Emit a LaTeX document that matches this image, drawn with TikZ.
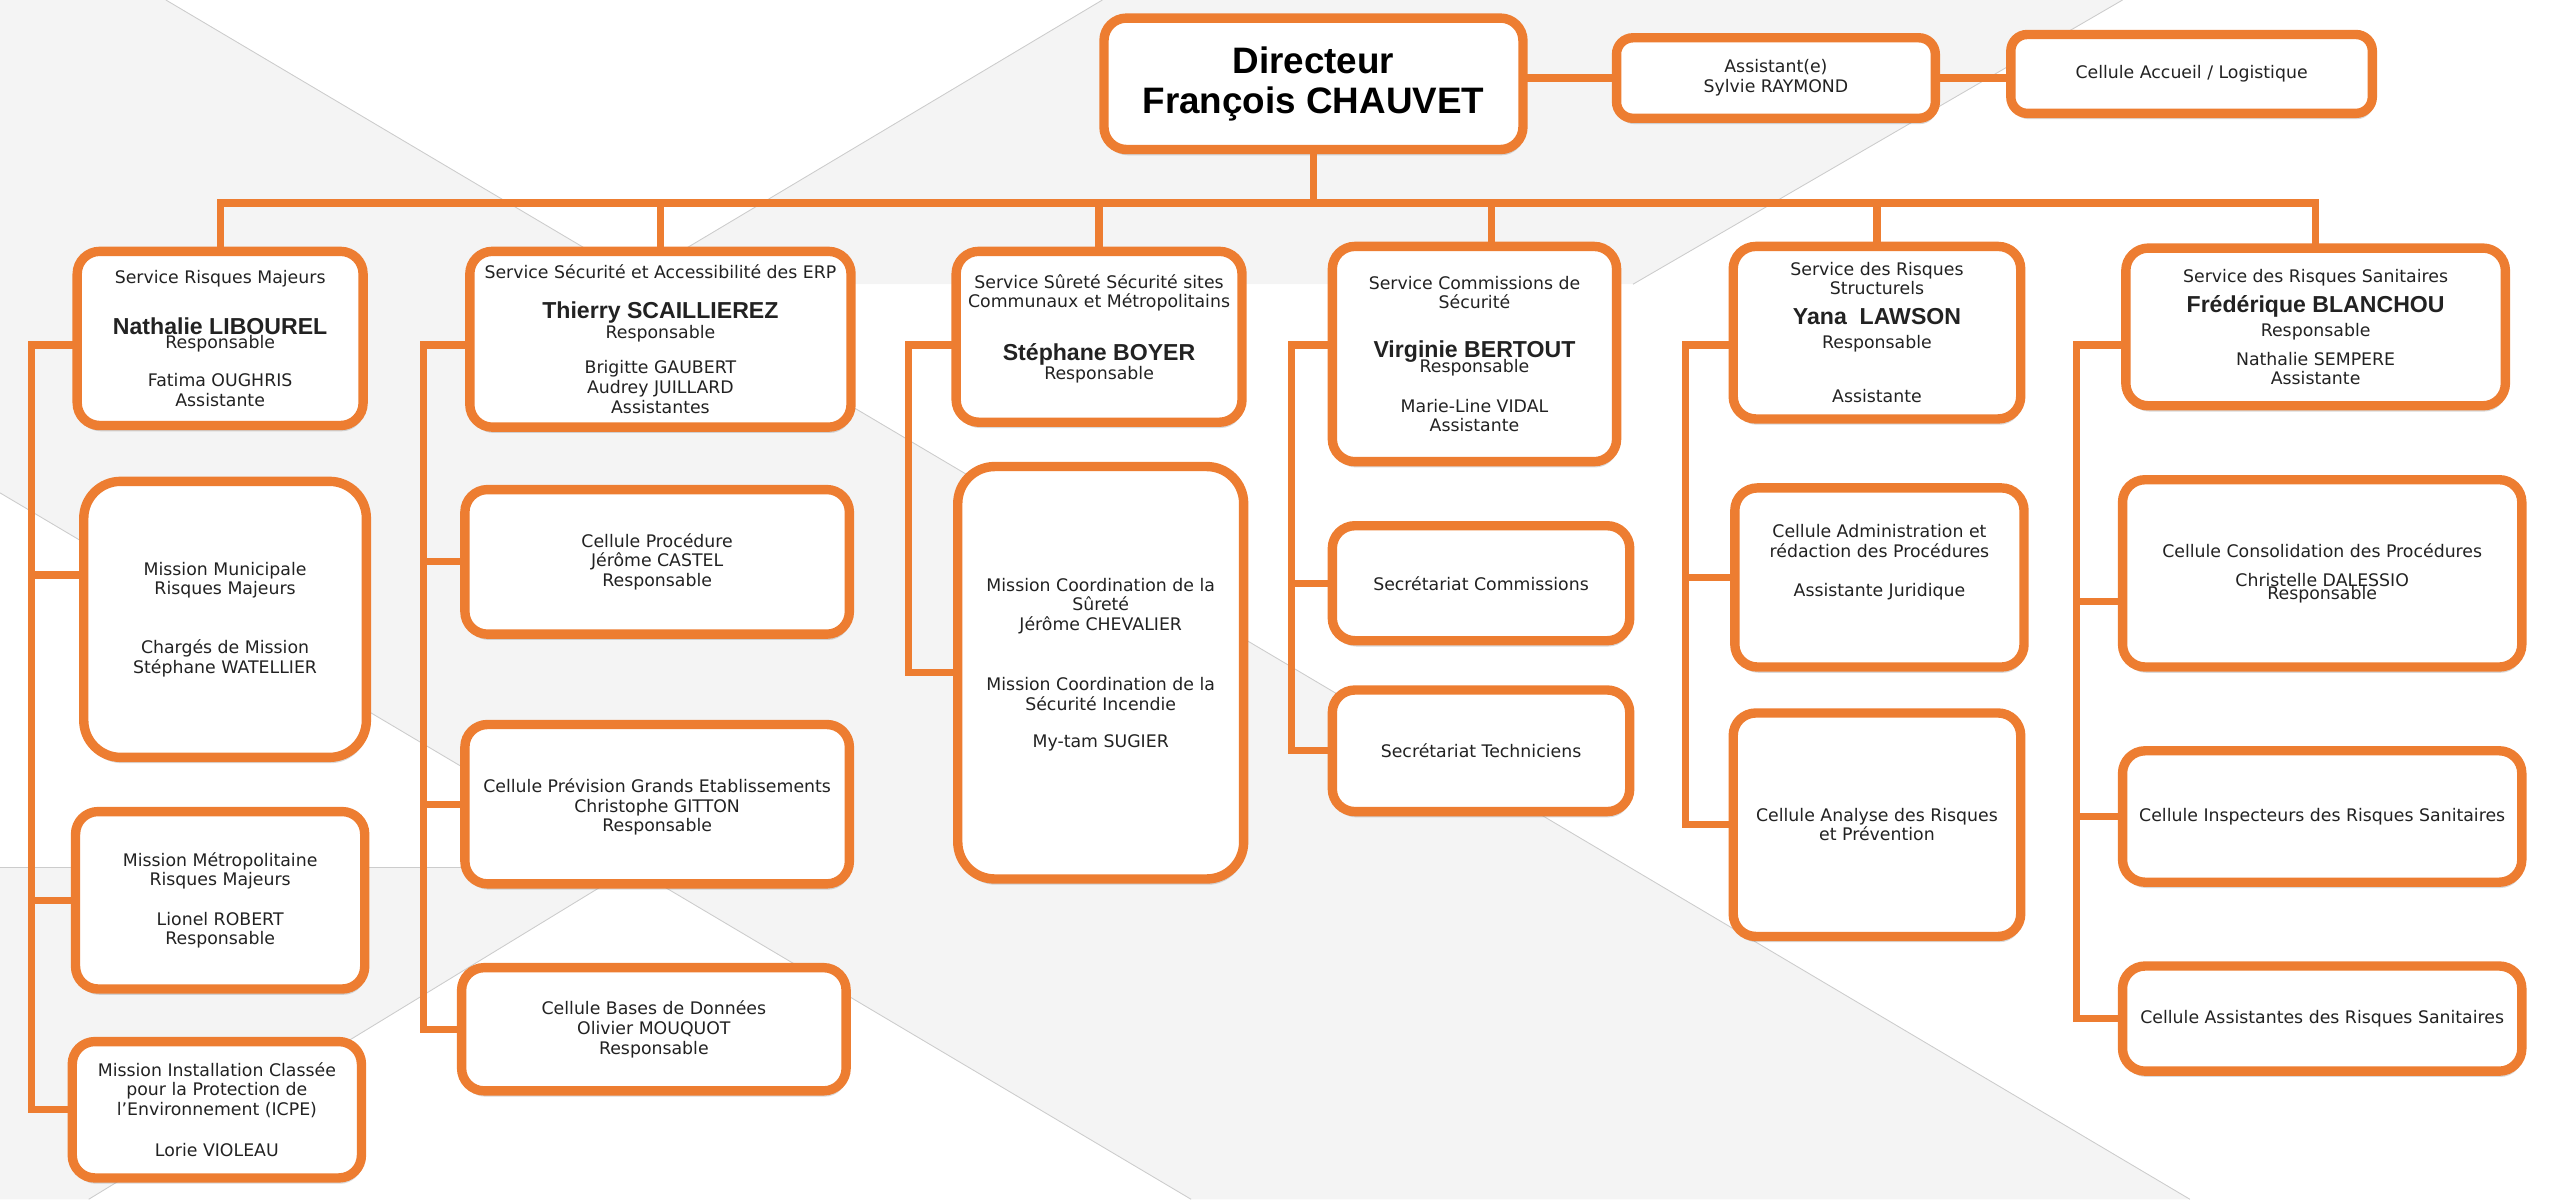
\documentclass[tikz,border=0pt]{standalone}
\usepackage{fontspec}
\setmainfont{DejaVu Sans}
\newfontfamily\arialfont{Liberation Sans}
\usetikzlibrary{shadows}
\definecolor{orgorange}{HTML}{ED7D31}
\definecolor{bgband}{HTML}{F4F4F4}
\definecolor{bgline}{HTML}{CCCCCC}
\definecolor{txtgrey}{HTML}{222222}
\newcommand{\chefnom}{\arialfont\bfseries\fontsize{16}{16}\selectfont}

\begin{document}
\begin{tikzpicture}[
  x=0.04cm, y=-0.04cm,
  orgbox/.style={rectangle, draw=orgorange, fill=white, line width=6.5pt,
               rounded corners=0.55cm, align=center, inner sep=1pt, text=txtgrey,
               font=\fontsize{12}{13.6}\selectfont,
               drop shadow={shadow xshift=0.8pt, shadow yshift=-4pt, opacity=0.25, fill=black!60}},
  link/.style={orgorange, line width=5pt, line cap=rect},
]
\useasboundingbox (0,0) rectangle (1568,730);

% background bands
\fill[bgband] (0,0) -- (101,0) -- (1333,730) -- (725,730) -- (0,300) -- cycle;
\fill[bgband] (671,0) -- (1292,0) -- (994,173) -- (381,173) -- cycle;
\fill[bgband] (0,528) -- (385,528) -- (54,730) -- (0,730) -- cycle;
\draw[bgline, line width=0.6pt] (101,0) -- (1333,730) (0,300) -- (725,730)
  (671,0) -- (381,173) (1292,0) -- (994,173) (0,528) -- (385,528) -- (54,730);

\node[orgbox, minimum width=10.2cm, minimum height=3.2cm, text=black,
      font=\arialfont\bfseries\fontsize{25.5}{28}\selectfont] (dir) at (799.5,51) {Directeur\\François CHAUVET};
\node[orgbox, minimum width=7.76cm, minimum height=1.96cm, rounded corners=0.4cm] (asst) at (1081,47.5) {Assistant(e)\\Sylvie RAYMOND};
\node[orgbox, minimum width=8.8cm, minimum height=1.92cm, rounded corners=0.4cm] (accu) at (1334,45) {Cellule Accueil / Logistique};

% Service Risques Majeurs
\node[orgbox, minimum width=6.96cm, minimum height=4.24cm] (srm) at (134,206)
  {Service Risques Majeurs\\[20pt]{\chefnom Nathalie LIBOUREL}\\[-4pt]Responsable\\[13pt]Fatima OUGHRIS\\Assistante};
\node[orgbox, minimum width=6.88cm, minimum height=6.72cm, rounded corners=0.9cm] (mmun) at (137,377)
  {Mission Municipale\\Risques Majeurs\\[27pt]Chargés de Mission\\Stéphane WATELLIER};
\node[orgbox, minimum width=7.04cm, minimum height=4.32cm] (mmet) at (134,548)
  {Mission Métropolitaine\\Risques Majeurs\\[13.6pt]Lionel ROBERT\\Responsable};
\node[orgbox, minimum width=7.04cm, minimum height=3.32cm] (micpe) at (132,675.5)
  {Mission Installation Classée\\pour la Protection de\\l’Environnement (ICPE)\\[15pt]Lorie VIOLEAU};

% Service Securite et Accessibilite
\node[orgbox, minimum width=9.28cm, minimum height=4.28cm] (ssa) at (402,206.5)
  {Service Sécurité et Accessibilité des ERP\\[14pt]{\chefnom Thierry SCAILLIEREZ}\\Responsable\\[11pt]Brigitte GAUBERT\\Audrey JUILLARD\\Assistantes};
\node[orgbox, minimum width=9.36cm, minimum height=3.52cm] (cproc) at (400,342)
  {Cellule Procédure\\Jérôme CASTEL\\Responsable};
\node[orgbox, minimum width=9.36cm, minimum height=3.88cm] (cprev) at (400,489.5)
  {\mbox{}\\Cellule Prévision Grands Etablissements\\Christophe GITTON\\Responsable};
\node[orgbox, minimum width=9.36cm, minimum height=3.0cm] (cbdd) at (398,626.5)
  {Cellule Bases de Données\\Olivier MOUQUOT\\Responsable};

% Service Surete
\node[orgbox, minimum width=6.96cm, minimum height=4.16cm] (surete) at (669,205)
  {Service Sûreté Sécurité sites\\Communaux et Métropolitains\\[21pt]{\chefnom Stéphane BOYER}\\Responsable\\\mbox{}};
\node[orgbox, minimum width=6.96cm, minimum height=10.04cm, rounded corners=0.9cm] (mcoord) at (670,409.5)
  {Mission Coordination de la\\Sûreté\\Jérôme CHEVALIER\\[28pt]Mission Coordination de la\\Sécurité Incendie\\[12.5pt]My-tam SUGIER\\\mbox{}};

% Service Commissions
\node[orgbox, minimum width=6.92cm, minimum height=5.24cm] (comm) at (897.5,215.5)
  {Service Commissions de\\Sécurité\\[20pt]{\chefnom Virginie BERTOUT}\\[-3pt]Responsable\\[13.6pt]Marie-Line VIDAL\\Assistante};
\node[orgbox, minimum width=7.24cm, minimum height=2.8cm] (scomm) at (901.5,355) {Secrétariat Commissions};
\node[orgbox, minimum width=7.24cm, minimum height=2.96cm] (stech) at (901.5,457) {Secrétariat Techniciens};

% Service Risques Structurels
\node[orgbox, minimum width=7.0cm, minimum height=4.2cm] (struct) at (1142.5,202.5)
  {Service des Risques\\Structurels\\[7pt]{\chefnom Yana\ \ LAWSON}\\[3pt]Responsable\\[24pt]Assistante};
\node[orgbox, minimum width=7.04cm, minimum height=4.36cm] (cadmin) at (1144,351.5)
  {Cellule Administration et\\rédaction des Procédures\\[13.6pt]Assistante Juridique\\[10pt]\mbox{}};
\node[orgbox, minimum width=7.0cm, minimum height=5.44cm] (canal) at (1142.5,502)
  {Cellule Analyse des Risques\\et Prévention};

% Service Risques Sanitaires
\node[orgbox, minimum width=9.24cm, minimum height=3.84cm] (sani) at (1409.5,199)
  {Service des Risques Sanitaires\\[6pt]{\chefnom Frédérique BLANCHOU}\\[3pt]Responsable\\[6pt]Nathalie SEMPERE\\Assistante};
\node[orgbox, minimum width=9.72cm, minimum height=4.56cm] (ccons) at (1413.5,349)
  {Cellule Consolidation des Procédures\\[7pt]Christelle DALESSIO\\[-4.5pt]Responsable};
\node[orgbox, minimum width=9.72cm, minimum height=3.2cm] (cinsp) at (1413.5,497) {Cellule Inspecteurs des Risques Sanitaires};
\node[orgbox, minimum width=9.72cm, minimum height=2.56cm] (cassi) at (1413.5,620) {Cellule Assistantes des Risques Sanitaires};

% connectors
\coordinate (bus) at (800,123.5);
\foreach \n/\x in {1/19, 2/258, 3/553, 4/786, 5/1026, 6/1264}
  \coordinate (sp\n) at (\x,210);
\coordinate (bmun) at ([yshift=1.08cm]mmun.west);
\coordinate (bcons) at ([yshift=-0.68cm]ccons.west);
\coordinate (dcomm) at ([xshift=0.42cm]comm.north);

\draw[link] (dir.east |- asst.west) -- (asst.west);
\draw[link] (asst.east) -- (accu.west |- asst.east);
\draw[link] (dir.south) -- (dir.south |- bus);
\draw[link] (srm.north |- bus) -- (sani.north |- bus);
\foreach \n in {srm, ssa, surete, struct, sani}
  \draw[link] (\n.north |- bus) -- (\n.north);
\draw[link] (dcomm |- bus) -- (dcomm);

\foreach \h/\s/\l in {srm/sp1/micpe, ssa/sp2/cbdd, surete/sp3/mcoord, comm/sp4/stech, struct/sp5/canal, sani/sp6/cassi}
  \draw[link] (\h.west |- \s) -- (\s) |- (\l.west);
\foreach \n/\s in {mmet/sp1, cproc/sp2, cprev/sp2, scomm/sp4, cadmin/sp5, cinsp/sp6}
  \draw[link] (\n.west) -- (\n.west -| \s);
\draw[link] (bmun) -- (bmun -| sp1);
\draw[link] (bcons) -- (bcons -| sp6);

\end{tikzpicture}
\end{document}
